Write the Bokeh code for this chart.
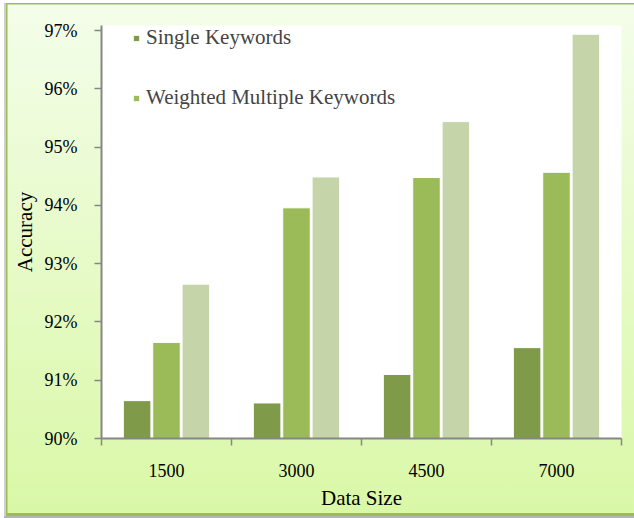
from bokeh.plotting import figure
from bokeh.models import (ColumnDataSource, Range1d, FixedTicker, PrintfTickFormatter,
                          Legend, LegendItem)
from bokeh.transform import dodge
from bokeh.embed import file_html
from bokeh.resources import INLINE

# ---- data ----
categories = ["1500", "3000", "4500", "7000"]
single_kw = [90.65, 90.61, 91.10, 91.56]
weighted_kw = [91.65, 93.96, 94.48, 94.57]
third_series = [92.65, 94.49, 95.44, 96.94]
y_ticks = [90, 91, 92, 93, 94, 95, 96, 97]

xs = [i + 0.5 for i in range(len(categories))]
src = ColumnDataSource(dict(x=xs, cat=categories, s=single_kw, w=weighted_kw, t=third_series))

FONT = "Liberation Serif"
AXIS_COL = "#868686"

p = figure(width=634, height=518, output_backend="svg", toolbar_location=None,
           x_range=Range1d(0, len(categories)), y_range=Range1d(90, 97.09),
           min_border_left=101, min_border_right=13, min_border_top=25, min_border_bottom=80)
p.styles = {
    "background": "linear-gradient(to bottom, #f4fdea, #d9f8a6)",
    "box-shadow": ("inset 4px 0 0 0 #ffffff, inset 0 3px 0 0 #ffffff, "
                   "inset 0 -2px 0 0 #b4b4b4, inset 6px 0 0 0 #cfcfcf, "
                   "inset 7.5px 0 0 0 #9bbb59, inset 0 4.5px 0 0 #9bbb59, "
                   "inset 0 -5px 0 0 #9bbb59"),
}
p.border_fill_alpha = 0
p.background_fill_color = "white"
p.outline_line_color = None
p.grid.visible = False

bw = 0.212
off = 0.226
r1 = p.vbar(x=dodge("x", -off, range=p.x_range), top="s", bottom=90, width=bw, source=src,
            fill_color="#7f9a48", line_color="white", line_width=1)
r2 = p.vbar(x=dodge("x", 0, range=p.x_range), top="w", bottom=90, width=bw, source=src,
            fill_color="#9bbb59", line_color="white", line_width=1)
r3 = p.vbar(x=dodge("x", off, range=p.x_range), top="t", bottom=90, width=bw, source=src,
            fill_color="#c5d5a9", line_color="white", line_width=1)

# x axis: ticks at category boundaries (minor), labels at centers (major)
xa = p.xaxis[0]
xa.ticker = FixedTicker(ticks=xs, minor_ticks=list(range(len(categories) + 1)))
xa.major_label_overrides = {x: c for x, c in zip(xs, categories)}
xa.major_tick_out = 0
xa.major_tick_in = 0
xa.minor_tick_out = 7
xa.minor_tick_in = 0
xa.minor_tick_line_color = AXIS_COL
xa.minor_tick_line_width = 1.5
xa.axis_line_color = AXIS_COL
xa.axis_line_width = 2
xa.major_label_standoff = 18
xa.major_label_text_font = FONT
xa.major_label_text_font_size = "18px"
xa.major_label_text_color = "black"
xa.axis_label = "Data Size"
xa.axis_label_text_font = FONT
xa.axis_label_text_font_size = "21px"
xa.axis_label_text_font_style = "normal"
xa.axis_label_text_color = "black"
xa.axis_label_standoff = 6

ya = p.yaxis[0]
ya.ticker = FixedTicker(ticks=y_ticks, minor_ticks=[])
ya.formatter = PrintfTickFormatter(format="%d%%")
ya.major_tick_out = 7
ya.major_tick_in = 0
ya.major_tick_line_color = AXIS_COL
ya.major_tick_line_width = 1.5
ya.axis_line_color = AXIS_COL
ya.axis_line_width = 2
ya.major_label_standoff = 17
ya.major_label_text_font = FONT
ya.major_label_text_font_size = "18px"
ya.major_label_text_color = "black"
ya.axis_label = "Accuracy"
ya.axis_label_text_font = FONT
ya.axis_label_text_font_size = "21px"
ya.axis_label_text_font_style = "normal"
ya.axis_label_text_color = "black"
ya.axis_label_standoff = 5

legend = Legend(items=[LegendItem(label="Single Keywords", renderers=[r1]),
                       LegendItem(label="Weighted Multiple Keywords", renderers=[r2])],
                location=(31, 328), padding=0, margin=0, spacing=35,
                glyph_width=8, glyph_height=8, label_standoff=6,
                label_text_font=FONT, label_text_font_size="21px",
                background_fill_alpha=0, border_line_alpha=0)
p.add_layout(legend)

open("out.html", "w").write(file_html(p, INLINE))
